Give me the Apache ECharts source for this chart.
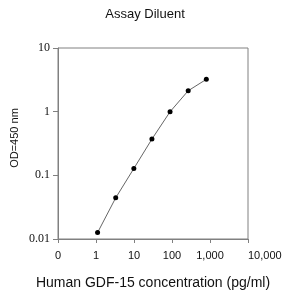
<!DOCTYPE html>
<html><head><meta charset="utf-8">
<script src="https://cdn.jsdelivr.net/npm/echarts@6/dist/echarts.min.js"></script>
<style>html,body{margin:0;padding:0;background:#fff}#c{width:289px;height:295px}</style>
</head><body><div id="c"></div>
<script>
const concentrations = [1.1, 3.3, 9.9, 29.6, 88.9, 266.7, 800];
const odValues = [0.0126, 0.0443, 0.128, 0.371, 0.996, 2.13, 3.22];
const xTickLabels = {0.1: '0', 1: '1', 10: '10', 100: '100', 1000: '1,000', 10000: '10,000'};
const yTickLabels = {0.01: '0.01', 0.1: '0.1', 1: '1', 10: '10'};

function pick(map, v) {
  const k = Object.keys(map).find(t => Math.abs(Math.log10(+t) - Math.log10(v)) < 1e-6);
  return k !== undefined ? map[k] : '';
}

const chart = echarts.init(document.getElementById('c'), null, {renderer: 'canvas'});
chart.setOption({
  animation: false,
  backgroundColor: '#fff',
  title: {
    text: 'Assay Diluent', left: 145, top: 8, padding: 0, textAlign: 'center',
    textStyle: {fontFamily: 'Liberation Sans', fontSize: 13, fontWeight: 'normal', color: '#111'}
  },
  graphic: [{
    type: 'text', x: 15, y: 138, rotation: Math.PI / 2,
    style: {text: 'OD=450 nm', font: '11px "Liberation Sans"', fill: '#111', align: 'center', verticalAlign: 'middle'}
  }],
  grid: {left: 58, right: 41, top: 48, bottom: 56, show: true, borderColor: '#808080', borderWidth: 1},
  xAxis: {
    type: 'log', logBase: 10, min: 0.1, max: 10000,
    name: 'Human GDF-15 concentration (pg/ml)', nameLocation: 'middle', nameGap: 37,
    nameTextStyle: {fontFamily: 'Liberation Sans', fontSize: 14, color: '#111'},
    axisLine: {lineStyle: {color: '#808080'}},
    axisTick: {show: true, inside: false, length: 4, lineStyle: {color: '#808080'}},
    minorTick: {show: false},
    splitLine: {show: false},
    axisLabel: {
      fontFamily: 'Liberation Sans', fontSize: 11, color: '#111', margin: 11,
      alignMaxLabel: 'left',
      formatter: v => pick(xTickLabels, v)
    }
  },
  yAxis: {
    type: 'log', logBase: 10, min: 0.01, max: 10,
    axisLine: {lineStyle: {color: '#808080'}},
    axisTick: {show: true, inside: false, length: 5, lineStyle: {color: '#808080'}},
    splitLine: {show: false},
    axisLabel: {
      fontFamily: 'Liberation Serif', fontSize: 12, color: '#111', margin: 8,
      formatter: v => pick(yTickLabels, v)
    }
  },
  series: [{
    type: 'line',
    data: concentrations.map((c, i) => [c, odValues[i]]),
    symbol: 'circle', symbolSize: 5,
    itemStyle: {color: '#000'},
    lineStyle: {color: '#666', width: 1}
  }]
});
</script></body></html>
